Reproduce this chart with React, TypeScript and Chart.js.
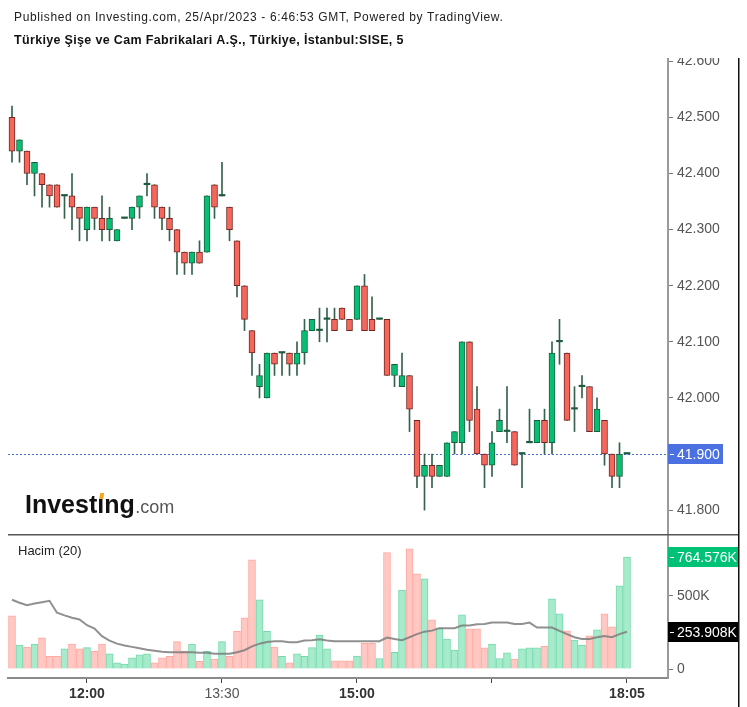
import React, { useEffect, useRef } from "react";
import { Chart, registerables } from "chart.js";
Chart.register(...registerables);

// ---- data (5-minute candles, index 0 .. 82) ----
const opens = [42.50,42.44,42.44,42.40,42.40,42.38,42.38,42.36,42.36,42.34,42.30,42.34,42.32,42.30,42.28,42.32,42.32,42.34,42.38,42.38,42.34,42.32,42.30,42.26,42.24,42.26,42.26,42.38,42.36,42.34,42.28,42.20,42.12,42.02,42.00,42.08,42.08,42.08,42.06,42.08,42.12,42.12,42.14,42.14,42.16,42.14,42.14,42.20,42.14,42.14,42.14,42.04,42.02,42.04,41.96,41.86,41.88,41.86,41.86,41.92,41.92,42.10,41.98,41.90,41.88,41.94,41.94,41.94,41.90,41.92,41.92,41.96,41.92,42.10,42.08,41.98,42.02,42.02,41.94,41.96,41.90,41.86,41.90];
const highs = [42.52,42.46,42.44,42.42,42.40,42.38,42.38,42.36,42.40,42.34,42.34,42.34,42.36,42.34,42.30,42.32,42.34,42.36,42.40,42.38,42.34,42.34,42.30,42.26,42.26,42.28,42.36,42.38,42.42,42.34,42.28,42.20,42.12,42.06,42.08,42.08,42.08,42.08,42.10,42.14,42.14,42.16,42.16,42.16,42.16,42.14,42.20,42.22,42.18,42.14,42.14,42.06,42.08,42.04,41.96,41.90,41.90,41.88,41.92,41.94,42.10,42.10,42.02,41.90,41.94,41.98,42.02,41.94,41.90,41.98,41.96,41.98,42.10,42.14,42.08,42.02,42.04,42.02,42.00,41.96,41.90,41.92,41.90];
const lows = [42.42,42.42,42.38,42.36,42.34,42.34,42.34,42.32,42.30,42.28,42.28,42.30,42.28,42.28,42.28,42.32,42.30,42.32,42.36,42.32,42.30,42.28,42.22,42.22,42.22,42.24,42.26,42.32,42.36,42.28,42.18,42.12,42.04,42.00,42.00,42.04,42.04,42.04,42.04,42.06,42.12,42.10,42.10,42.12,42.14,42.12,42.14,42.12,42.12,42.14,42.04,42.02,42.02,41.94,41.84,41.80,41.84,41.86,41.86,41.90,41.90,41.94,41.90,41.84,41.86,41.94,41.92,41.88,41.84,41.92,41.92,41.90,41.90,42.06,41.96,41.94,42.00,41.94,41.94,41.88,41.84,41.84,41.90];
const closes = [42.44,42.46,42.40,42.42,42.38,42.36,42.34,42.36,42.34,42.32,42.34,42.32,42.30,42.32,42.30,42.32,42.34,42.36,42.38,42.34,42.32,42.30,42.26,42.24,42.26,42.24,42.36,42.34,42.36,42.30,42.20,42.14,42.08,42.04,42.08,42.06,42.08,42.06,42.08,42.12,42.14,42.12,42.14,42.12,42.14,42.12,42.20,42.12,42.12,42.14,42.04,42.06,42.04,41.98,41.86,41.88,41.86,41.88,41.92,41.94,42.10,41.96,41.90,41.88,41.92,41.96,41.94,41.88,41.90,41.92,41.96,41.92,42.08,42.10,41.96,41.98,42.02,41.94,41.98,41.90,41.86,41.90,41.90];
// volume in thousands
const volumesK = [363,164,150,171,212,87,87,137,171,137,146,121,171,103,43,34,77,96,103,43,77,87,187,121,171,52,121,68,187,87,258,349,746,472,258,150,87,43,103,87,146,232,137,55,55,55,89,175,175,72,795,113,538,820,650,615,336,281,204,130,370,274,274,144,171,72,110,68,137,144,144,155,479,377,260,198,164,226,267,377,288,568,764.576];
const volumeMA = [473,452,436,447,456,466,384,366,350,338,299,276,224,194,173,160,151,141,132,125,118,114,114,114,114,111,111,104,104,104,114,128,155,173,185,189,189,182,182,194,196,203,194,190,190,190,190,190,190,190,215,205,197,217,238,255,262,279,279,279,297,297,306,308,317,317,317,308,308,317,283,283,283,260,238,217,205,205,217,226,217,238,253.908];
const timeTickIndex = [10, 28, 46, 64, 82];
const timeTickLabels = ["12:00", "13:30", "15:00", "", "18:05"];
const timeTickBold = [true, false, true, false, true];
const priceTicks = [41.8, 41.9, 42.0, 42.1, 42.2, 42.3, 42.4, 42.5, 42.6];
const volumeTicks = [0, 500];
const lastPrice = 41.9;
const lastVolume = 764.576;
const lastMA = 253.908;

const FONT = "'Liberation Sans', Arial, sans-serif";
const X_MIN = -0.533;
const X_MAX = 87.467;

const RED_FILL = "#f6665b";
const RED_BORDER = "#6e2622";
const GREEN_FILL = "#07bf72";
const GREEN_BORDER = "#1c5c3e";
const DOJI = "#1f5a40";
const WICK = "#34624c";
const VR_FILL = "#ffc8c3";
const VR_BORDER = "#ffa8a0";
const VG_FILL = "#a7ebcd";
const VG_BORDER = "#74d8ab";

const isDoji = (i: number) => opens[i] === closes[i];
const isUp = (i: number) => closes[i] >= opens[i];

function drawLabelBox(ctx: CanvasRenderingContext2D, y: number, text: string, bg: string, w: number) {
  ctx.save();
  ctx.fillStyle = bg;
  ctx.fillRect(668, Math.round(y) - 10, w, 20);
  ctx.fillStyle = "#ffffff";
  ctx.fillRect(670, Math.round(y), 4, 1);
  ctx.font = `14px ${FONT}`;
  ctx.textBaseline = "middle";
  ctx.textAlign = "left";
  ctx.fillText(text, 677, Math.round(y) + 1);
  ctx.restore();
}

const priceOverlay = {
  id: "priceOverlay",
  beforeDatasetsDraw(chart: any) {
    const ctx = chart.ctx as CanvasRenderingContext2D;
    const y = chart.scales.y.getPixelForValue(lastPrice);
    ctx.save();
    ctx.strokeStyle = "#4a6ee0";
    ctx.lineWidth = 1;
    ctx.setLineDash([2, 2]);
    ctx.beginPath();
    ctx.moveTo(8, Math.round(y) + 0.5);
    ctx.lineTo(668, Math.round(y) + 0.5);
    ctx.stroke();
    ctx.restore();
  },
  afterDraw(chart: any) {
    const ctx = chart.ctx as CanvasRenderingContext2D;
    ctx.save();
    ctx.fillStyle = "#ffffff";
    ctx.fillRect(0, 0, 747, 58);
    // header
    ctx.fillStyle = "#222";
    ctx.textAlign = "left";
    ctx.textBaseline = "alphabetic";
    ctx.font = `12px ${FONT}`;
    (ctx as any).letterSpacing = "0.63px";
    ctx.fillText("Published on Investing.com, 25/Apr/2023 - 6:46:53 GMT, Powered by TradingView.", 14, 21);
    ctx.font = `bold 12.5px ${FONT}`;
    (ctx as any).letterSpacing = "0.33px";
    ctx.fillStyle = "#111";
    ctx.fillText("Türkiye Şişe ve Cam Fabrikalari A.Ş., Türkiye, İstanbul:SISE, 5", 14, 44);
    (ctx as any).letterSpacing = "0px";
    // right border
    ctx.fillStyle = "#111";
    ctx.fillRect(738, 58, 1.5, 476);
    // last price label
    const y = chart.scales.y.getPixelForValue(lastPrice);
    drawLabelBox(ctx, y, lastPrice.toFixed(3), "#4a70e2", 55);
    // logo
    ctx.fillStyle = "#111";
    ctx.font = `bold 25px ${FONT}`;
    const a = "Invest";
    ctx.fillText(a, 25, 513);
    const wa = ctx.measureText(a).width;
    ctx.fillText("\u0131", 25 + wa, 513);
    const wi = ctx.measureText("\u0131").width;
    ctx.fillText("ng", 25 + wa + wi, 513);
    const wng = ctx.measureText("ng").width;
    ctx.fillStyle = "#f5a623";
    ctx.beginPath();
    const dx = 25 + wa + wi / 2;
    ctx.moveTo(dx - 1.5, 499);
    ctx.lineTo(dx + 2.5, 499);
    ctx.lineTo(dx + 3.5, 493);
    ctx.lineTo(dx - 0.5, 493);
    ctx.closePath();
    ctx.fill();
    ctx.fillStyle = "#555";
    ctx.font = `18px ${FONT}`;
    ctx.fillText(".com", 25 + wa + wi + wng + 0.5, 513);
    ctx.restore();
  },
};

const volumeOverlay = {
  id: "volumeOverlay",
  afterDraw(chart: any) {
    const ctx = chart.ctx as CanvasRenderingContext2D;
    ctx.save();
    ctx.fillStyle = "#555";
    ctx.fillRect(8, 0, 731, 1.5);
    ctx.fillStyle = "#111";
    ctx.fillRect(738, 0, 1.5, 173);
    ctx.fillStyle = "#222";
    ctx.font = `13px ${FONT}`;
    ctx.textBaseline = "alphabetic";
    ctx.fillText("Hacim (20)", 18, 21);
    const ys = chart.scales.y;
    drawLabelBox(ctx, ys.getPixelForValue(lastVolume), lastVolume.toFixed(3) + "K", "#00c277", 70);
    drawLabelBox(ctx, ys.getPixelForValue(lastMA), lastMA.toFixed(3) + "K", "#000000", 70);
    ctx.restore();
  },
};

const fitY = (s: any) => {
  s.width = 79;
  s.paddingTop = 0;
  s.paddingBottom = 0;
};

export default function App() {
  const priceRef = useRef<HTMLCanvasElement | null>(null);
  const volRef = useRef<HTMLCanvasElement | null>(null);

  useEffect(() => {
    const bodyData = opens.map((o, i) => ({ x: i, y: [o, closes[i]] }));
    const wickData = lows.map((l, i) => ({ x: i, y: [l, highs[i]] }));
    const bodyFill = opens.map((_, i) => (isDoji(i) ? DOJI : isUp(i) ? GREEN_FILL : RED_FILL));
    const bodyBorder = opens.map((_, i) => (isDoji(i) ? DOJI : isUp(i) ? GREEN_BORDER : RED_BORDER));
    const bodyBW = opens.map((_, i) => (isDoji(i) ? 0 : 1));

    const priceChart = new Chart(priceRef.current as HTMLCanvasElement, {
      type: "bar",
      data: {
        datasets: [
          {
            data: bodyData as any,
            backgroundColor: bodyFill,
            borderColor: bodyBorder,
            borderWidth: bodyBW,
            borderSkipped: false,
            barThickness: 6,
            minBarLength: 1.5,
            grouped: false,
          } as any,
          {
            data: wickData as any,
            backgroundColor: WICK,
            borderWidth: 0,
            barThickness: 1,
            grouped: false,
          } as any,
        ],
      },
      options: {
        animation: false,
        responsive: false,
        maintainAspectRatio: false,
        layout: { padding: { left: 8, top: 58, right: 0, bottom: 0 } },
        plugins: { legend: { display: false }, tooltip: { enabled: false } },
        scales: {
          x: { type: "linear", min: X_MIN, max: X_MAX, offset: false, display: false },
          y: {
            position: "right",
            min: 41.7574,
            max: 42.6059,
            afterFit: fitY,
            afterBuildTicks: (s: any) => { s.ticks = priceTicks.map((v) => ({ value: v })); },
            ticks: {
              callback: (v: any) => Number(v).toFixed(3),
              color: "#555",
              font: { family: FONT, size: 14 },
              padding: 4,
              autoSkip: false,
            },
            grid: { drawOnChartArea: false, tickLength: 5, tickColor: "#777", tickWidth: 1 },
            border: { color: "#9a9a9a", width: 2 },
          },
        },
      } as any,
      plugins: [priceOverlay],
    });

    const volData = volumesK.map((v, i) => ({ x: i, y: v }));
    const maData = volumeMA.map((v, i) => ({ x: i, y: v }));
    const volChart = new Chart(volRef.current as HTMLCanvasElement, {
      type: "bar",
      data: {
        datasets: [
          {
            type: "line",
            data: maData as any,
            borderColor: "rgba(125,125,125,0.85)",
            borderWidth: 2,
            pointRadius: 0,
            tension: 0,
            fill: false,
          } as any,
          {
            type: "bar",
            data: volData as any,
            backgroundColor: volumesK.map((_, i) => (isUp(i) ? VG_FILL : VR_FILL)),
            borderColor: volumesK.map((_, i) => (isUp(i) ? VG_BORDER : VR_BORDER)),
            borderWidth: 1,
            barThickness: 7,
            grouped: false,
          } as any,
        ],
      },
      options: {
        animation: false,
        responsive: false,
        maintainAspectRatio: false,
        layout: { padding: { left: 8, top: 0, right: 0, bottom: 0 } },
        plugins: { legend: { display: false }, tooltip: { enabled: false } },
        scales: {
          x: {
            type: "linear",
            min: X_MIN,
            max: X_MAX,
            offset: false,
            afterFit: (s: any) => {
              s.height = 29;
              s.paddingLeft = 0;
              s.paddingRight = 0;
            },
            afterBuildTicks: (s: any) => { s.ticks = timeTickIndex.map((v) => ({ value: v })); },
            ticks: {
              autoSkip: false,
              maxRotation: 0,
              padding: 3,
              callback: (_v: any, idx: number) => timeTickLabels[idx],
              color: (c: any) => (timeTickBold[c.index] ? "#333" : "#555"),
              font: (c: any) => ({ family: FONT, size: 14, weight: timeTickBold[c.index] ? "bold" : "normal" }),
            },
            grid: { drawOnChartArea: false, offset: false, tickLength: 5, tickColor: "#444", tickWidth: 1 },
            border: { color: "#8a8a8a", width: 2 },
          },
          y: {
            position: "right",
            min: -61.4,
            max: 921.6,
            afterFit: fitY,
            afterBuildTicks: (s: any) => { s.ticks = volumeTicks.map((v) => ({ value: v })); },
            ticks: {
              callback: (v: any) => (Number(v) === 0 ? "0" : `${v}K`),
              color: "#555",
              font: { family: FONT, size: 14 },
              padding: 4,
              autoSkip: false,
            },
            grid: { drawOnChartArea: false, tickLength: 5, tickColor: "#777", tickWidth: 1 },
            border: { color: "#9a9a9a", width: 2 },
          },
        },
      } as any,
      plugins: [volumeOverlay],
    });

    return () => {
      priceChart.destroy();
      volChart.destroy();
    };
  }, []);

  return (
    <div style={{ position: "absolute", left: 0, top: 0, width: 747, height: 707, background: "#fff" }}>
      <canvas
        ref={priceRef}
        width={747}
        height={534}
        style={{ position: "absolute", left: 0, top: 0, width: 747, height: 534 }}
      />
      <canvas
        ref={volRef}
        width={747}
        height={173}
        style={{ position: "absolute", left: 0, top: 534, width: 747, height: 173 }}
      />
    </div>
  );
}
